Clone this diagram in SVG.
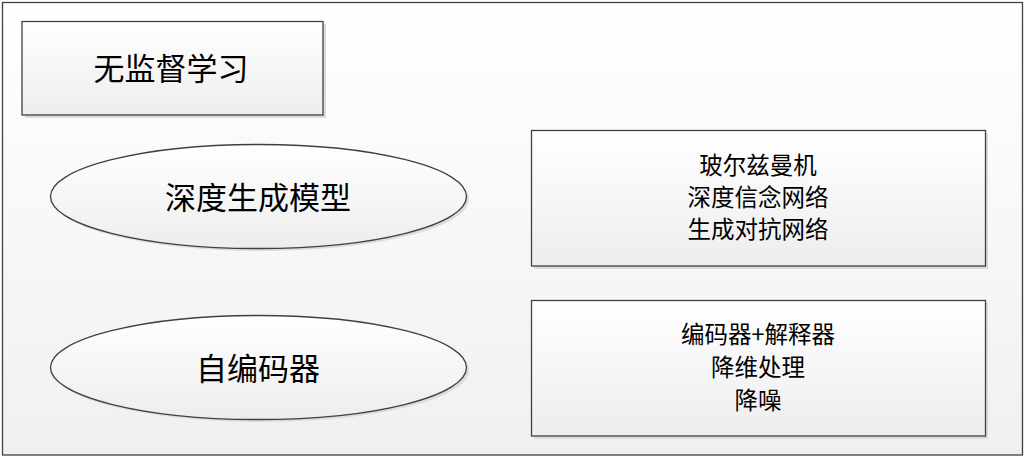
<svg xmlns="http://www.w3.org/2000/svg" width="1027" height="460" viewBox="0 0 1027 460">
<defs>
<linearGradient id="g" x1="0" y1="0" x2="0" y2="1">
<stop offset="0" stop-color="#ffffff"/>
<stop offset="1" stop-color="#ededed"/>
</linearGradient>
<linearGradient id="gf" x1="0" y1="0" x2="0" y2="1">
<stop offset="0" stop-color="#ffffff"/>
<stop offset="1" stop-color="#f0f0f0"/>
</linearGradient>
</defs>
<style>
.shape{fill:url(#g);stroke:#404040;stroke-width:1.3}
.shadow{fill:#dcdcdc}
.t{font-family:"Noto Sans CJK SC","Noto Sans",sans-serif;fill:#000;text-anchor:middle;dominant-baseline:central}
.big{font-size:31px}
.small{font-size:23.5px}
</style>
<g id="frame">
<rect x="2.5" y="2.5" width="1020" height="452.5" fill="url(#gf)" stroke="#404040" stroke-width="1.3"/>
</g>
<g id="title">
<rect class="shadow" x="25" y="24" width="301" height="94"/>
<rect class="shape" x="22" y="21.5" width="301" height="93.5"/>
<text class="t big" x="171" y="66">无监督学习</text>
</g>
<g id="deep-gen">
<ellipse class="shadow" cx="261" cy="199" rx="208" ry="52"/>
<ellipse class="shape" cx="258.5" cy="196.5" rx="208" ry="52"/>
<text class="t big" x="258" y="195">深度生成模型</text>
</g>
<g id="autoencoder">
<ellipse class="shadow" cx="261" cy="370" rx="208" ry="52"/>
<ellipse class="shape" cx="258.5" cy="367.5" rx="208" ry="52"/>
<text class="t big" x="258" y="366">自编码器</text>
</g>
<g id="deep-gen-list">
<rect class="shadow" x="534" y="133" width="454" height="136"/>
<rect class="shape" x="531.5" y="130.5" width="454" height="135.5"/>
<text class="t small" x="758" y="164">玻尔兹曼机</text>
<text class="t small" x="758" y="196">深度信念网络</text>
<text class="t small" x="758" y="228">生成对抗网络</text>
</g>
<g id="autoencoder-list">
<rect class="shadow" x="534" y="303" width="454" height="136"/>
<rect class="shape" x="531.5" y="300.5" width="454" height="135.5"/>
<text class="t small" x="758" y="333">编码器+解释器</text>
<text class="t small" x="758" y="366">降维处理</text>
<text class="t small" x="758" y="399">降噪</text>
</g>
<g id="connectors"></g>
</svg>
